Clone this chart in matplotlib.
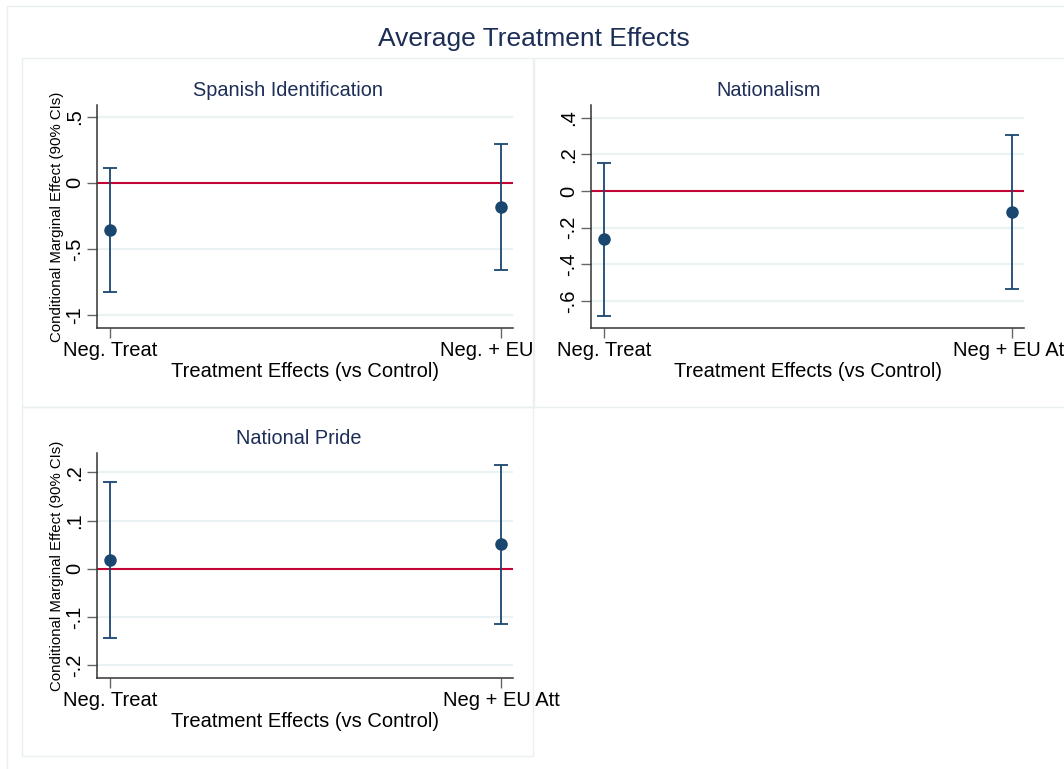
import matplotlib
matplotlib.use("Agg")
import matplotlib.pyplot as plt
from matplotlib.patches import Rectangle
from matplotlib.transforms import Bbox, TransformedBbox

plt.rcParams['font.family'] = ['Liberation Sans', 'DejaVu Sans']

# data
panels = ["Spanish Identification", "Nationalism", "National Pride"]
xlabels = [["Neg. Treat", "Neg. + EU Att"], ["Neg. Treat", "Neg + EU Att"], ["Neg. Treat", "Neg + EU Att"]]
est = [[-0.355, -0.184], [-0.265, -0.114], [0.018, 0.051]]
lo = [[-0.824, -0.658], [-0.681, -0.535], [-0.1435, -0.1136]]
hi = [[0.116, 0.292], [0.151, 0.307], [0.180, 0.2153]]
yticks = [[-1, -0.5, 0, 0.5], [-0.6, -0.4, -0.2, 0, 0.2, 0.4], [-0.2, -0.1, 0, 0.1, 0.2]]
ytlabels = [["-1", "-.5", "0", ".5"], ["-.6", "-.4", "-.2", "0", ".2", ".4"], ["-.2", "-.1", "0", ".1", ".2"]]
ylims = [(-1.1, 0.59), (-0.748, 0.469), (-0.2265, 0.24)]

W, H = 1064, 769
navy = '#1a476f'
grid_c = '#eaf2f3'
red = '#c10534'
title_c = '#1c2d57'

fig = plt.figure(figsize=(W / 100, H / 100), dpi=100)

def fr(x0, y0, x1, y1):
    return [x0 / W, 1 - y1 / H, (x1 - x0) / W, (y1 - y0) / H]

# outer frame and panel boxes
boxes = [(7, 6, 1080, 790), (22, 58, 533, 407), (534, 58, 1080, 407), (22, 407, 533, 756)]
for b in boxes:
    fig.add_artist(Rectangle((b[0] / W, 1 - b[3] / H), (b[2] - b[0]) / W, (b[3] - b[1]) / H,
                             transform=fig.transFigure, fill=False, ec='#eaf0f1', lw=1))

fig.text(534 / W, 1 - 39 / H, "Average Treatment Effects", ha='center', va='center',
         fontsize=19, color=title_c)

axpos = [fr(97, 105, 513, 328), fr(591, 105, 1024, 328), fr(97, 453, 513, 678)]
clips = [(22, 58, 533, 407), (534, 58, 1064, 407), (22, 407, 1064, 769)]
title_xy = [(288, 90), (769, 90), (299, 439)]

for i in range(3):
    ax = fig.add_axes(axpos[i])
    ax.set_xlim(0.967, 2.03)
    ax.set_ylim(*ylims[i])
    for t in yticks[i]:
        if t != 0:
            ax.axhline(t, color=grid_c, lw=1.6, zorder=0)
    ax.axhline(0, color=red, lw=1.5, zorder=1)
    x = [1, 2]
    yerr = [[est[i][k] - lo[i][k] for k in range(2)], [hi[i][k] - est[i][k] for k in range(2)]]
    ax.errorbar(x, est[i], yerr=yerr, fmt='o', color=navy, ms=8, elinewidth=1.3,
                capsize=5, capthick=1.3, zorder=3)
    ax.set_xticks(x)
    ax.set_xticklabels(xlabels[i], fontsize=14.5)
    ax.set_yticks(yticks[i])
    ax.set_yticklabels(ytlabels[i], fontsize=14.5, rotation=90, va='center')
    ax.tick_params(axis='both', length=7, width=1, color='#666666', pad=2)
    for s in ['top', 'right']:
        ax.spines[s].set_visible(False)
    for s in ['left', 'bottom']:
        ax.spines[s].set_color('#333333')
        ax.spines[s].set_linewidth(1.1)
    tx, ty = title_xy[i]
    fig.text(tx / W, 1 - ty / H, panels[i], ha='center', va='center', fontsize=14.3, color=title_c)
    ax.set_xlabel("Treatment Effects (vs Control)", fontsize=14.5, labelpad=2)
    if i != 1:
        ax.set_ylabel("Conditional Marginal Effect (90% CIs)", fontsize=10.8, labelpad=1)
    c = clips[i]
    cb = TransformedBbox(Bbox([[c[0] / W, 1 - c[3] / H], [c[2] / W, 1 - c[1] / H]]), fig.transFigure)
    for lbl in ax.get_xticklabels():
        lbl.set_clip_box(cb)
        lbl.set_clip_on(True)

fig.savefig("out.png", dpi=100)
